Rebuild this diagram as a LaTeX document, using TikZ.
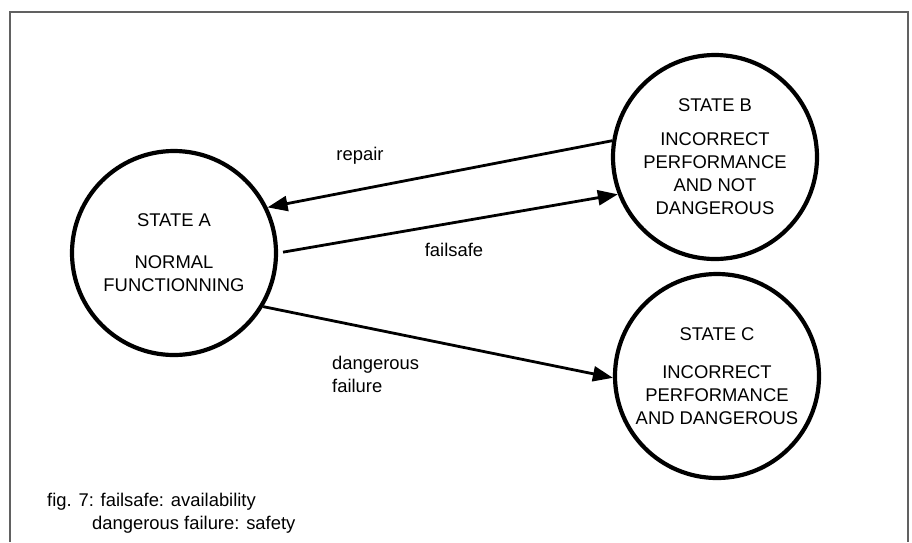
\documentclass[tikz,border=0pt]{standalone}
\usepackage{fontspec}
\setmainfont{Liberation Sans}
\usetikzlibrary{arrows.meta}
\begin{document}
\begin{tikzpicture}[x=1pt,y=-1pt,
  txt/.style={font=\fontsize{18.4}{23}\selectfont},
  state/.style={circle,draw,line width=4.2pt,minimum size=204pt,inner sep=0pt,align=center,txt},
  trans/.style={line width=2.8pt,-{Triangle[length=20pt,width=15pt]}},
  lbl/.style={txt,inner sep=0pt},
  frame/.style={draw=black!62,line width=1.6pt}]
\useasboundingbox (0,0) rectangle (912,542);
% open frame around the figure
\draw[frame] (10,542) -- (10,12) -- (908,12) -- (908,542);

% states
\node[state] (A) at (174,253) {STATE A\\[19pt]NORMAL\\FUNCTIONNING};
\node[state] (B) at (715,157) {STATE B\\[11pt]INCORRECT\\PERFORMANCE\\AND NOT\\DANGEROUS};
\node[state] (C) at (717,376) {STATE C\\[15pt]INCORRECT\\PERFORMANCE\\AND DANGEROUS};

% transitions
\draw[trans] (B.171) -- (A.26);
\draw[trans,shorten <=5pt] (A.0) -- (B.-159);
\draw[trans] (A.-31) -- (C.181);

% transition labels
\node[lbl] (repair) at (360,156) {repair};
\node[lbl] (failsafe) at (454,250) {failsafe};
\node[lbl,align=left,anchor=west] (danger) at (332,374) {dangerous\\failure};

% caption
\node[lbl,align=left,anchor=west] (caption) at (47,513)
  {fig. 7: failsafe: availability\\\hspace*{45pt}dangerous failure: safety};
\end{tikzpicture}
\end{document}
